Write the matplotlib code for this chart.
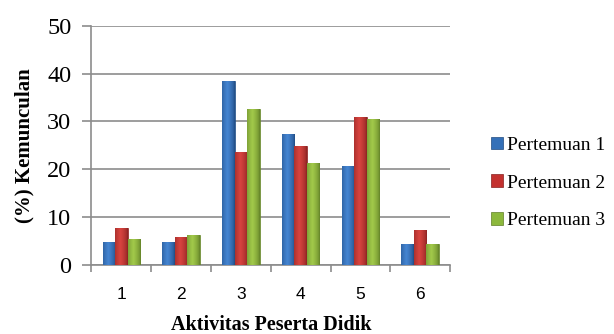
import matplotlib
matplotlib.use("Agg")
import matplotlib.pyplot as plt
import numpy as np
from matplotlib.patches import Patch
from matplotlib.colors import to_rgb

categories = ["1", "2", "3", "4", "5", "6"]
series_names = ["Pertemuan 1", "Pertemuan 2", "Pertemuan 3"]
p1 = [4.7, 4.7, 38.5, 27.3, 20.7, 4.3]
p2 = [7.8, 5.8, 23.7, 24.8, 31.0, 7.3]
p3 = [5.4, 6.2, 32.5, 21.2, 30.4, 4.3]
colors = ["#3470B8", "#C3312F", "#8CB83C"]
mids = ["#4585D2", "#D8443F", "#A2CA4B"]
edges = ["#1F4A80", "#862120", "#607F26"]

plt.rcParams['font.family'] = ['Liberation Serif', 'DejaVu Serif']
fig = plt.figure(figsize=(6.14, 3.34), dpi=100)
ax = fig.add_axes([0.149, 0.207, 0.584, 0.716])

x = np.arange(len(categories))
w = 0.21
for i, (vals, c, m, e) in enumerate(zip([p1, p2, p3], colors, mids, edges)):
    bars = ax.bar(x + (i - 1) * w, vals, w, color=c, edgecolor=e, linewidth=0.5, zorder=3)
    ce, cm = np.array(to_rgb(e)), np.array(to_rgb(m))
    t = np.linspace(0, 1, 40)
    prof = np.clip(1 - np.abs(t - 0.42) / 0.58, 0, 1) ** 0.6
    grad = ce[None, :] * (1 - prof[:, None]) + cm[None, :] * prof[:, None]
    for b in bars:
        x0, y0 = b.get_x(), b.get_y()
        im = ax.imshow(grad[None, :, :], extent=(x0, x0 + b.get_width(), y0, y0 + b.get_height()),
                       aspect='auto', zorder=3.5, interpolation='bilinear')
        im.set_clip_path(b)

ax.set_xlim(-0.5, 5.5)
ax.set_ylim(0, 50)
ax.set_yticks(range(0, 51, 10))
ax.yaxis.grid(True, color="#8C8C8C", linewidth=1.2, zorder=0)
ax.set_xticks(x)
ax.set_xticklabels(categories, fontsize=12.5, family=['Liberation Sans', 'DejaVu Sans'])
ax.set_xticks(np.arange(-0.5, 6, 1), minor=True)
ax.tick_params(axis='x', which='major', length=0, pad=16)
ax.tick_params(axis='x', which='minor', length=5, color="#8C8C8C", width=1.2)
ax.tick_params(axis='y', length=6.5, color="#8C8C8C", width=1.2, labelsize=17.5, pad=8)
for s in ["top", "right"]:
    ax.spines[s].set_visible(False)
for s in ["left", "bottom"]:
    ax.spines[s].set_color("#8C8C8C")
    ax.spines[s].set_linewidth(1.2)

ax.set_xlabel("Aktivitas Peserta Didik", fontsize=14.5, fontweight='bold', va='center')
ax.xaxis.set_label_coords(0.5, -0.25)
ax.set_ylabel("(%) Kemunculan", fontsize=15, fontweight='bold', va='center')
ax.yaxis.set_label_coords(-0.1875, 0.5)

handles = [Patch(facecolor=c, edgecolor=e, linewidth=0.5) for c, e in zip(colors, edges)]
fig.legend(handles, series_names, loc="center left", bbox_to_anchor=(0.800, 0.452),
           frameon=False, fontsize=14, handlelength=0.62, handleheight=0.62,
           handletextpad=0.2, labelspacing=1.05, borderpad=0, borderaxespad=0)

fig.savefig("out.png", dpi=100)
